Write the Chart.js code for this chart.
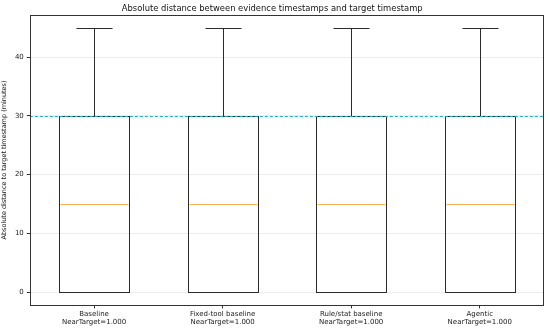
<!DOCTYPE html>
<html><head><meta charset="utf-8">
<script src="https://cdn.jsdelivr.net/npm/chart.js@4"></script>
<style>html,body{margin:0;padding:0;background:#fff}#wrap{width:550px;height:329px}</style>
</head><body><div id="wrap"><canvas id="c"></canvas></div>
<script>
const categories = [["Baseline","NearTarget=1.000"],["Fixed-tool baseline","NearTarget=1.000"],["Rule/stat baseline","NearTarget=1.000"],["Agentic","NearTarget=1.000"]];
const whiskerLow = [0, 0, 0, 0];
const q1 = [0, 0, 0, 0];
const medians = [15, 15, 15, 15];
const q3 = [30, 30, 30, 30];
const whiskerHigh = [45, 45, 45, 45];
const nearThreshold = 30;
const yTicks = [0, 10, 20, 30, 40];

const FONT = "'DejaVu Sans', sans-serif";
const snap = v => Math.round(v) + 0.5;

const boxPlugin = {
  id: 'boxextras',
  afterDatasetsDraw(chart) {
    const ctx = chart.ctx, xs = chart.scales.x, ys = chart.scales.y, ca = chart.chartArea;
    const meta = chart.getDatasetMeta(0);
    ctx.save();
    ctx.lineWidth = 1;
    categories.forEach((c, i) => {
      const x = snap(xs.getPixelForValue(i));
      const w = meta.data[i].width;
      const half = Math.round(w / 2);
      const cap = Math.round(w / 4);
      const yHi = snap(ys.getPixelForValue(whiskerHigh[i]));
      const yQ3 = snap(ys.getPixelForValue(q3[i]));
      const yLo = snap(ys.getPixelForValue(whiskerLow[i]));
      const yQ1 = snap(ys.getPixelForValue(q1[i]));
      ctx.strokeStyle = '#2b2b2b';
      ctx.strokeRect(x - half, yQ3, 2 * half, yQ1 - yQ3);
      ctx.beginPath();
      ctx.moveTo(x, yHi); ctx.lineTo(x, yQ3);
      ctx.moveTo(x - cap, yHi); ctx.lineTo(x + cap, yHi);
      if (yLo !== yQ1) { ctx.moveTo(x, yLo); ctx.lineTo(x, yQ1); }
      ctx.moveTo(x - cap, yLo); ctx.lineTo(x + cap, yLo);
      ctx.stroke();
      const ym = snap(ys.getPixelForValue(medians[i]));
      ctx.strokeStyle = '#f5b05a';
      ctx.beginPath(); ctx.moveTo(x - half + 1, ym); ctx.lineTo(x + half - 1, ym); ctx.stroke();
    });
    // threshold line
    ctx.strokeStyle = '#14b4c6'; ctx.lineWidth = 1.2; ctx.setLineDash([3, 2]);
    const ty = snap(ys.getPixelForValue(nearThreshold));
    ctx.beginPath(); ctx.moveTo(ca.left, ty); ctx.lineTo(ca.right, ty); ctx.stroke();
    ctx.setLineDash([]);
    // frame
    ctx.lineWidth = 1;
    ctx.strokeStyle = '#333';
    const l = snap(ca.left), t = snap(ca.top), r = snap(ca.right) - 1, b = snap(ca.bottom);
    ctx.strokeRect(l, t, r - l, b - t);
    ctx.restore();
  }
};

new Chart(document.getElementById('c'), {
  type: 'bar',
  data: {
    labels: categories,
    datasets: [{
      data: categories.map((c, i) => [q1[i], q3[i]]),
      backgroundColor: 'rgba(0,0,0,0)',
      borderWidth: 0,
      barPercentage: 0.55,
      categoryPercentage: 1.0
    }]
  },
  options: {
    responsive: true, maintainAspectRatio: false, animation: false,
    layout: { padding: { left: 0.5, right: 6, top: 0, bottom: 1.5 } },
    plugins: {
      legend: { display: false }, tooltip: { enabled: false },
      title: { display: true, text: 'Absolute distance between evidence timestamps and target timestamp',
        font: { family: FONT, size: 8.4, weight: 'normal', lineHeight: 1.2 }, color: '#111', padding: { top: 4, bottom: 0.5 } }
    },
    scales: {
      x: {
        offset: true,
        grid: { offset: false, drawOnChartArea: false, color: '#333', tickLength: 3, tickColor: '#333' },
        border: { display: false },
        ticks: { font: { family: FONT, size: 7, lineHeight: 1.15 }, color: '#222', maxRotation: 0, autoSkip: false, padding: 1.5 }
      },
      y: {
        min: -2.25, max: 47.25,
        afterBuildTicks(s) { s.ticks = yTicks.map(v => ({ value: v })); },
        grid: { color: 'rgba(0,0,0,0.07)', tickLength: 3, tickColor: '#333' },
        border: { display: false },
        ticks: { font: { family: FONT, size: 7 }, color: '#222', padding: 3 },
        title: { display: true, text: 'Absolute distance to target timestamp (minutes)', font: { family: FONT, size: 6.5, lineHeight: 1.2 }, color: '#111', padding: { top: 0, bottom: 3.6 } }
      }
    }
  },
  plugins: [boxPlugin]
});
</script></body></html>
